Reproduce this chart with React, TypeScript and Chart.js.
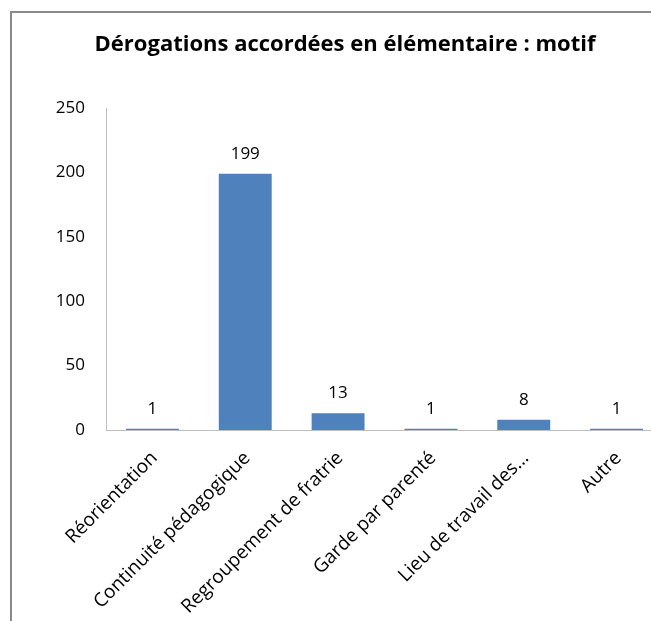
import { useEffect, useRef } from 'react';
import { Chart, registerables } from 'chart.js';

Chart.register(...registerables);

const chartTitle = 'Dérogations accordées en élémentaire : motif';
const categories = [
  'Réorientation',
  'Continuité pédagogique',
  'Regroupement de fratrie',
  'Garde par parenté',
  'Lieu de travail des...',
  'Autre',
];
const values = [1, 199, 13, 1, 8, 1];
const yMin = 0;
const yMax = 250;
const yStep = 50;

const W = 690;
const H = 660;
const FONT = '"Open Sans", "Liberation Sans", sans-serif';

const framePlugin = {
  id: 'frame',
  beforeDraw(chart: any) {
    const ctx = chart.ctx;
    ctx.save();
    ctx.fillStyle = '#ffffff';
    ctx.fillRect(0, 0, chart.width, chart.height);
    ctx.strokeStyle = '#8a8a8a';
    ctx.lineWidth = 2;
    ctx.strokeRect(11, 12, chart.width + 20, chart.height + 20);
    ctx.restore();
  },
};

const valueLabelPlugin = {
  id: 'valueLabels',
  afterDatasetsDraw(chart: any) {
    const ctx = chart.ctx;
    const meta = chart.getDatasetMeta(0);
    ctx.save();
    ctx.font = `17px ${FONT}`;
    ctx.fillStyle = '#000000';
    ctx.textAlign = 'center';
    ctx.textBaseline = 'alphabetic';
    meta.data.forEach((bar: any, i: number) => {
      ctx.fillText(String(values[i]), bar.x, bar.y - 15);
    });
    ctx.restore();
  },
};

export default function App() {
  const ref = useRef<HTMLCanvasElement>(null);

  useEffect(() => {
    if (!ref.current) return;
    const chart = new Chart(ref.current, {
      type: 'bar',
      data: {
        labels: categories,
        datasets: [
          {
            data: values,
            backgroundColor: '#4F81BD',
            borderWidth: 0,
            barPercentage: 0.57,
            categoryPercentage: 1,
          },
        ],
      },
      options: {
        responsive: false,
        animation: false,
        layout: { padding: { left: 27, right: 27, top: 0, bottom: 0 } },
        plugins: {
          legend: { display: false },
          tooltip: { enabled: false },
          title: {
            display: true,
            text: chartTitle,
            color: '#000000',
            font: { family: FONT, size: 22, weight: 'bold', lineHeight: 1.2 },
            padding: { top: 32, bottom: 49.6 },
          },
        },
        scales: {
          x: {
            grid: { display: false, drawTicks: false },
            border: { display: true, color: '#BFBFBF', width: 1 },
            ticks: {
              autoSkip: false,
              minRotation: 45,
              maxRotation: 45,
              color: '#000000',
              font: { family: FONT, size: 19 },
              padding: 17,
              labelOffset: 2,
            },
            afterFit: (s: any) => {
              s.height = H - 430;
            },
          },
          y: {
            min: yMin,
            max: yMax,
            grid: { display: false, drawTicks: false },
            border: { display: true, color: '#BFBFBF', width: 1 },
            ticks: {
              stepSize: yStep,
              color: '#000000',
              font: { family: FONT, size: 17 },
              padding: 21,
            },
            afterFit: (s: any) => {
              s.width = 79;
            },
          },
        },
      },
      plugins: [framePlugin, valueLabelPlugin],
    });
    return () => chart.destroy();
  }, []);

  return (
    <div
      style={{
        position: 'fixed',
        left: 0,
        top: 0,
        width: 651,
        height: 621,
        overflow: 'hidden',
        background: '#fff',
      }}
    >
      <canvas ref={ref} width={W} height={H} style={{ display: 'block', width: W, height: H }} />
    </div>
  );
}
